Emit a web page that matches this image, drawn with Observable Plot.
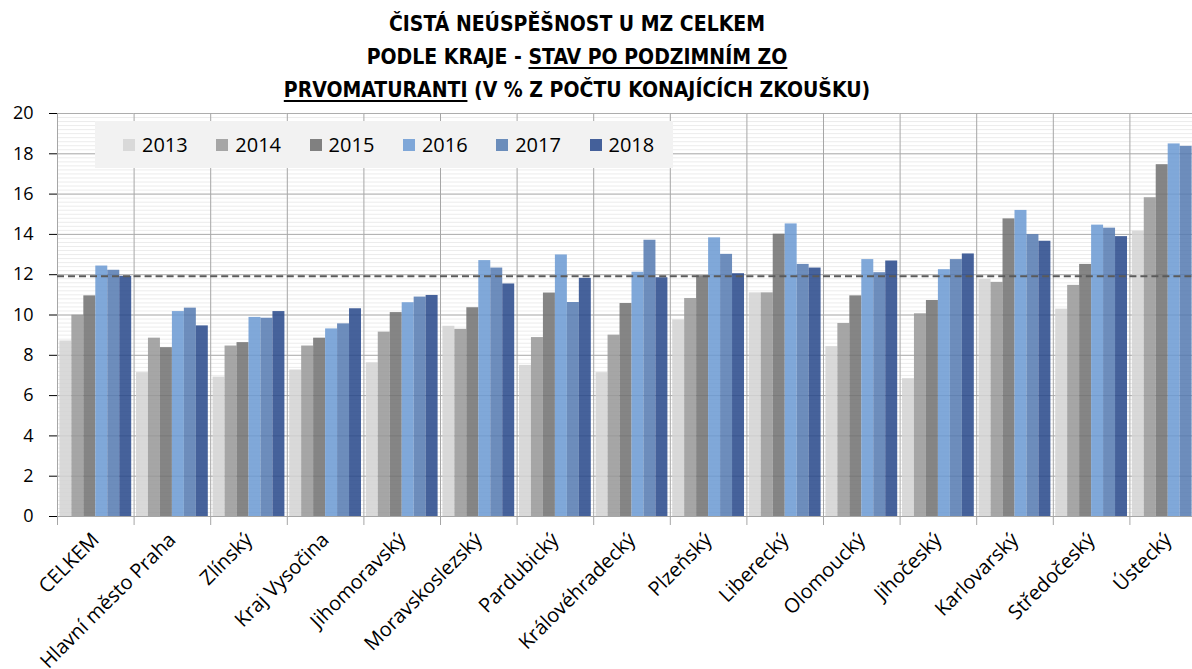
<!DOCTYPE html>
<html>
<head>
<meta charset="utf-8">
<script src="https://cdn.jsdelivr.net/npm/d3@7"></script>
<script src="https://cdn.jsdelivr.net/npm/@observablehq/plot@0.6"></script>
<style>
  html, body { margin: 0; padding: 0; background: #fff; }
  body { width: 1192px; height: 669px; overflow: hidden; position: relative; font-family: "Open Sans", "Liberation Sans", sans-serif; }
  #title { position: absolute; left: 0; top: 8px; width: 1154px; text-align: center;
    font-family: "Liberation Sans Narrow", "DejaVu Sans Condensed", "Liberation Sans", sans-serif;
    font-weight: bold; font-size: 21px; line-height: 33px; color: #000; }
  #title u { text-decoration-thickness: 1.5px; text-underline-offset: 3px; }
  #chart { position: absolute; left: 0; top: 105px; }
  #legend { position: absolute; left: 95px; top: 121px; width: 578px; height: 47px; background: #f2f2f2; }
  #legend .item { position: absolute; top: 0; height: 47px; display: flex; align-items: center; font-size: 20px; color: #000; font-family: "Open Sans", sans-serif; }
  #legend .sw { width: 12px; height: 12px; margin-right: 7px; }
  g[aria-label="y-axis tick"] { stroke: #a6a6a6; }
  g[aria-label="fx-axis tick label"] { font-size: 20px; }
</style>
</head>
<body>
<div id="title">
  <div>ČISTÁ NEÚSPĚŠNOST U MZ CELKEM</div>
  <div>PODLE KRAJE - <u>STAV PO PODZIMNÍM ZO</u></div>
  <div><u>PRVOMATURANTI</u> (V % Z POČTU KONAJÍCÍCH ZKOUŠKU)</div>
</div>
<div id="chart"></div>
<div id="legend"></div>
<script>
const regions = ["CELKEM", "Hlavní město Praha", "Zlínský", "Kraj Vysočina", "Jihomoravský",
  "Moravskoslezský", "Pardubický", "Královéhradecký", "Plzeňský", "Liberecký",
  "Olomoucký", "Jihočeský", "Karlovarský", "Středočeský", "Ústecký"];
const years = ["2013", "2014", "2015", "2016", "2017", "2018"];

const v2013 = [8.71, 7.14, 6.92, 7.27, 7.63, 9.44, 7.50, 7.14, 9.76, 11.10, 8.43, 6.84, 11.77, 10.29, 14.16];
const v2014 = [9.99, 8.85, 8.46, 8.46, 9.15, 9.29, 8.88, 9.00, 10.82, 11.10, 9.58, 10.06, 11.62, 11.47, 15.82];
const v2015 = [10.95, 8.38, 8.63, 8.85, 10.12, 10.36, 11.09, 10.57, 11.95, 14.01, 10.95, 10.72, 14.77, 12.51, 17.46];
const v2016 = [12.43, 10.17, 9.88, 9.31, 10.61, 12.70, 12.98, 12.12, 13.83, 14.52, 12.75, 12.25, 15.19, 14.46, 18.49];
const v2017 = [12.22, 10.34, 9.84, 9.56, 10.89, 12.33, 10.62, 13.71, 13.01, 12.51, 12.10, 12.75, 13.99, 14.31, 18.37];
const v2018 = [11.92, 9.46, 10.17, 10.31, 10.97, 11.54, 11.82, 11.85, 12.05, 12.33, 12.68, 13.03, 13.66, 13.89, null];

const yTicks = [0, 2, 4, 6, 8, 10, 12, 14, 16, 18, 20];
const minorTicks = d3.range(0, 20, 0.2);
const colors = ["#d2d2d2", "#969696", "#707070", "#6a99d2", "#5379b0", "#264689"];
const legendColors = ["#d9d9d9", "#a6a6a6", "#808080", "#7fa7d8", "#6b8dbb", "#44609a"];

const series = [v2013, v2014, v2015, v2016, v2017, v2018];
const data = [];
regions.forEach((r, i) => years.forEach((y, j) => {
  const v = series[j][i];
  if (v != null) data.push({region: r, year: y, value: v});
}));
const celkem = v2018[0];

const chart = Plot.plot({
  width: 1210,
  height: 564,
  marginLeft: 57,
  marginRight: 4,
  marginTop: 8,
  marginBottom: 153,
  style: {maxWidth: "none", fontFamily: "'Open Sans', sans-serif", fontSize: "18px", color: "#000", overflow: "visible"},
  fx: {domain: regions, paddingInner: 0, paddingOuter: 0, round: false, label: null, tickRotate: -45, tickSize: 0, tickPadding: 20},
  x: {domain: years, axis: null, paddingInner: 0, paddingOuter: 0.2, round: false},
  y: {domain: [0, 20], ticks: yTicks, tickSize: 8, tickPadding: 16, label: null},
  color: {domain: years, range: colors},
  marks: [
    Plot.ruleY(minorTicks, {stroke: "#ececec"}),
    Plot.ruleY(yTicks, {stroke: "#adadad"}),
    Plot.frame({anchor: "left", stroke: "#a6a6a6", insetBottom: -8}),
    Plot.barY(data, {fx: "region", x: "year", y: "value", fill: "year", fillOpacity: 0.85}),
    Plot.ruleY([celkem], {stroke: "#5a5a5a", strokeWidth: 2, strokeDasharray: "7,4"}),
    Plot.ruleY([0], {stroke: "#a6a6a6"})
  ]
});
document.getElementById("chart").appendChild(chart);

const legend = document.getElementById("legend");
years.forEach((y, j) => {
  const it = document.createElement("div");
  it.className = "item";
  it.style.left = (28 + j * 93.3) + "px";
  const sw = document.createElement("div");
  sw.className = "sw";
  sw.style.background = legendColors[j];
  it.appendChild(sw);
  it.appendChild(document.createTextNode(y));
  legend.appendChild(it);
});
</script>
</body>
</html>
